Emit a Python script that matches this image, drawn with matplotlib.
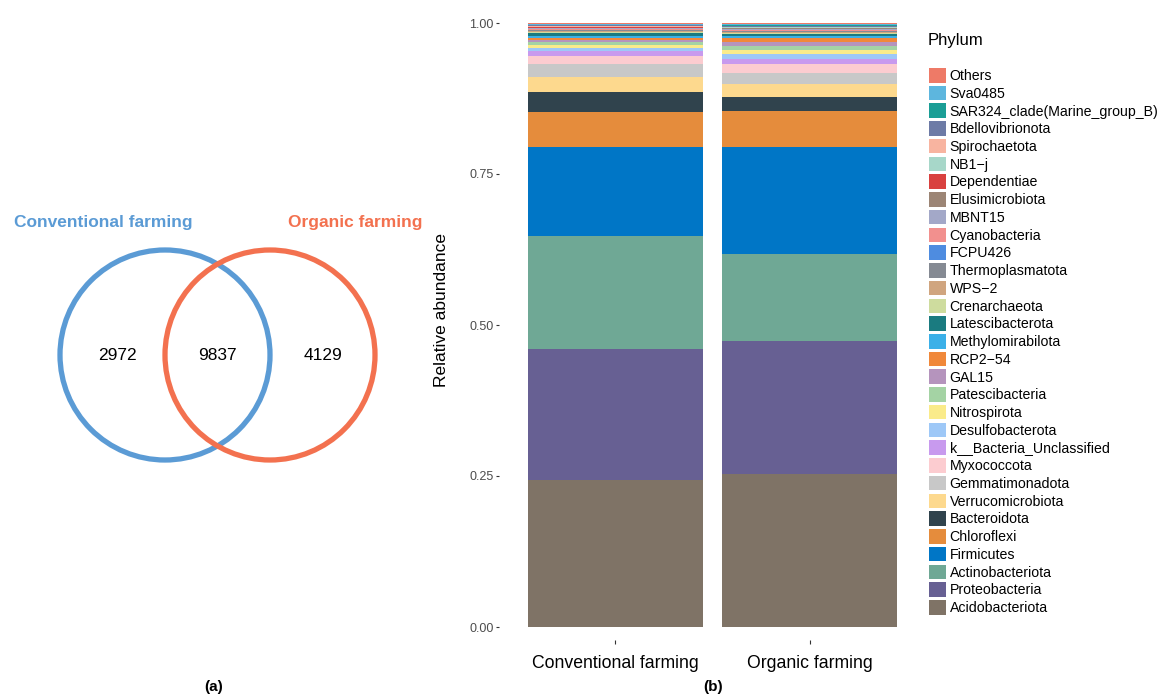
import numpy as np
import matplotlib
matplotlib.use("Agg")
import matplotlib.pyplot as plt
from matplotlib.patches import Circle, Patch

plt.rcParams["font.family"] = ["Liberation Sans", "DejaVu Sans"]

# ---- Venn diagram data ----
venn_sets = ["Conventional farming", "Organic farming"]
venn_counts = [2972, 9837, 4129]   # only conventional, shared, only organic

# ---- Stacked bar data (bottom -> top of stack) ----
groups = ["Conventional farming", "Organic farming"]
phyla = [
    "Acidobacteriota", "Proteobacteria", "Actinobacteriota", "Firmicutes",
    "Chloroflexi", "Bacteroidota", "Verrucomicrobiota", "Gemmatimonadota",
    "Myxococcota", "k__Bacteria_Unclassified", "Desulfobacterota",
    "Nitrospirota", "Patescibacteria", "GAL15", "RCP2\u221254",
    "Methylomirabilota", "Latescibacterota", "Crenarchaeota", "WPS\u22122",
    "Thermoplasmatota", "FCPU426", "Cyanobacteria", "MBNT15",
    "Elusimicrobiota", "Dependentiae", "NB1\u2212j", "Spirochaetota",
    "Bdellovibrionota", "SAR324_clade(Marine_group_B)", "Sva0485", "Others",
]
conventional = [
    0.243, 0.218, 0.186, 0.147, 0.058, 0.033, 0.026, 0.021, 0.014, 0.008,
    0.004, 0.006, 0.004, 0.004, 0.003, 0.003, 0.006, 0.0015, 0.0012, 0.0010,
    0.0010, 0.0010, 0.0012, 0.0012, 0.0008, 0.0010, 0.0010, 0.0012, 0.0010,
    0.0010, 0.0019,
]
organic = [
    0.254, 0.219, 0.144, 0.178, 0.060, 0.022, 0.022, 0.019, 0.014, 0.008,
    0.008, 0.008, 0.006, 0.007, 0.006, 0.003, 0.004, 0.0018, 0.0012, 0.0010,
    0.0008, 0.0012, 0.0015, 0.0015, 0.0008, 0.0012, 0.0012, 0.0014, 0.0012,
    0.0010, 0.0022,
]
palette = [
    "#7F7366", "#676093", "#6FA895", "#0076C6", "#E58C3C", "#30434D",
    "#FDD98E", "#C8C8C8", "#FCCCD0", "#C89AEE", "#9EC8F7", "#FAEB8A",
    "#A4D3A4", "#B594BD", "#F0883A", "#3BB0E8", "#1A7B80", "#CEDC9E",
    "#D0A57F", "#858A93", "#4E8CE0", "#F2908E", "#A3A8C8", "#9C8575",
    "#D9413F", "#A7D7C9", "#F8B4A0", "#6D7BA6", "#1B9E96", "#5DB6DE",
    "#EE7A67",
]

W, H = 1160, 695
fig = plt.figure(figsize=(W / 100, H / 100), dpi=100)
fig.patch.set_facecolor("white")

# ---- (a) Venn diagram, drawn on a pixel-space overlay ----
ov = fig.add_axes([0, 0, 1, 1])
ov.set_xlim(0, W)
ov.set_ylim(H, 0)
ov.axis("off")

blue = "#5B9BD5"
red = "#F3714F"
r = 105
ov.add_patch(Circle((165, 355), r, fill=False, lw=3.8, ec=blue))
ov.add_patch(Circle((270, 355), r, fill=False, lw=3.8, ec=red))
ov.text(103, 222, venn_sets[0], color=blue, fontsize=12.5, fontweight="bold",
        ha="center", va="center")
ov.text(355, 223, venn_sets[1], color=red, fontsize=12.5, fontweight="bold",
        ha="center", va="center")
for x, c in zip([117, 217, 323], venn_counts):
    ov.text(x, 356, f"{c}", fontsize=12.5, ha="center", va="center", color="black")
ov.text(214, 687, "(a)", fontsize=11, fontweight="bold", ha="center", va="center")
ov.text(713, 687, "(b)", fontsize=11, fontweight="bold", ha="center", va="center")

# ---- (b) Stacked relative abundance bars ----
px_per_unit = 604.0
zero_px = 627.0
ax_bottom_px = 640.0
ax = fig.add_axes([499 / W, (H - ax_bottom_px) / H, 427 / W, ax_bottom_px / H])
ax.set_xlim(-0.6, 1.6)
ax.set_ylim(-(ax_bottom_px - zero_px) / px_per_unit, zero_px / px_per_unit)

xpos = np.arange(len(groups))
data = np.array([conventional, organic])
bottoms = np.zeros(len(groups))
handles = []
for i, name in enumerate(phyla):
    vals = data[:, i]
    ax.bar(xpos, vals, width=0.9, bottom=bottoms, color=palette[i],
           edgecolor="none", linewidth=0)
    bottoms += vals
    handles.append(Patch(facecolor=palette[i], edgecolor="none", label=name))

for s in ax.spines.values():
    s.set_visible(False)
ax.set_facecolor("white")
ax.set_yticks([0, 0.25, 0.5, 0.75, 1.0])
ax.set_yticklabels(["0.00", "0.25", "0.50", "0.75", "1.00"])
ax.set_xticks(xpos)
ax.set_xticklabels(groups)
ax.tick_params(axis="y", length=2.5, width=0.8, color="#333333", pad=1.5,
               labelsize=9, labelcolor="#4D4D4D")
ax.tick_params(axis="x", length=3, width=0.8, color="#333333", pad=8,
               labelsize=12.7, labelcolor="black")
ax.set_ylabel("Relative abundance", fontsize=12.5, color="black")
ax.yaxis.set_label_coords(-0.117, 0.516)

# legend: top of the stack listed first
fig.text(928 / W, 1 - 40 / H, "Phylum", fontsize=12, ha="left", va="center")
leg = fig.legend(handles=handles[::-1], loc="upper left",
                 bbox_to_anchor=(929 / W, 1 - 68 / H), frameon=False,
                 fontsize=10.2, handlelength=1.2, handleheight=1.2,
                 labelspacing=0.19, handletextpad=0.25, borderpad=0,
                 borderaxespad=0)

fig.savefig("out.png", dpi=100, facecolor="white")
